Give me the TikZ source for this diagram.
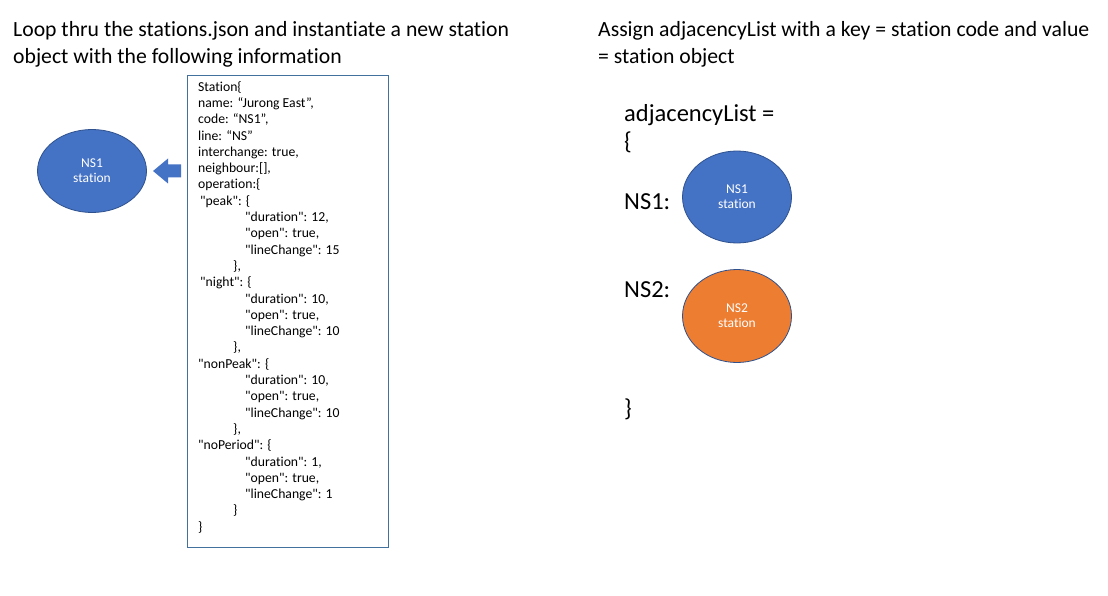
\documentclass[tikz,border=0pt]{standalone}
\usepackage{fontspec}
\setmainfont{Carlito}
\newfontfamily\plaincarlito{Carlito}[Ligatures=NoCommon]
\usetikzlibrary{positioning,shapes}
\definecolor{stnblue}{HTML}{4472C4}
\definecolor{stnorange}{HTML}{ED7D31}
\definecolor{stnedge}{HTML}{2F528F}
\definecolor{boxedge}{HTML}{41719C}
\tikzstyle{heading} = [anchor=base west, inner sep=0pt, align=left, font=\plaincarlito\fontsize{21.7}{26.3}\selectfont]
\tikzstyle{listtext} = [anchor=base west, inner sep=0pt, font=\plaincarlito\fontsize{24.5}{28}\selectfont]
\tikzstyle{station} = [ellipse, minimum width=109pt, minimum height=83pt, draw=stnedge, line width=0.8pt, fill=stnblue, text=white, align=center, inner sep=0pt, font=\plaincarlito\fontsize{13.5}{15}\selectfont]
\tikzstyle{infobox} = [rectangle, anchor=north west, draw=boxedge, line width=0.8pt, minimum width=201pt, minimum height=472pt, inner sep=0pt]
\tikzstyle{jsontext} = [anchor=north west, inner sep=0pt, align=left, font=\plaincarlito\fontsize{13.7}{16.3}\selectfont]
\def\ind{\hspace*{47pt}}
\def\cls{\hspace*{35pt}}

\begin{document}
\begin{tikzpicture}[x=1pt, y=-1pt]
\useasboundingbox [fill=white] (0,0) rectangle (1108,596);

\node (title1) [heading] at (13,63.3) {Loop thru the stations.json and instantiate a new station\\object with the following information};
\node (title2) [heading] at (598,63.3) {Assign adjacencyList with a key = station code and value\\= station object};

% left part
\node (ns1) [station] at (92,171) {NS1\\station};
\node (info) [infobox] at (187,75) {};
\node (json) [jsontext] at (198,81) {Station\{\\
name: “Jurong East”,\\
code: “NS1”,\\
line: “NS”\\
interchange: true,\\
neighbour:[],\\
operation:\{\\
\hspace*{2pt}"peak": \{\\
\ind"duration": 12,\\
\ind"open": true,\\
\ind"lineChange": 15\\
\cls\},\\
\hspace*{2pt}"night": \{\\
\ind"duration": 10,\\
\ind"open": true,\\
\ind"lineChange": 10\\
\cls\},\\
"nonPeak": \{\\
\ind"duration": 10,\\
\ind"open": true,\\
\ind"lineChange": 10\\
\cls\},\\
"noPeriod": \{\\
\ind"duration": 1,\\
\ind"open": true,\\
\ind"lineChange": 1\\
\cls\}\\
\}};
\fill [stnblue] (153,171) -- (168,158.5) -- (168,164.5) -- (181,164.5) -- (181,177.5) -- (168,177.5) -- (168,183.5) -- cycle;

% right part
\node (adj) [listtext] at (624,121.5) {adjacencyList =};
\node (open) [listtext] at (624,150) {\{};
\node (key1) [listtext] at (624,210) {NS1:};
\node (key2) [listtext] at (624,297) {NS2:};
\node (close) [listtext] at (624,416) {\}};
\node (val1) [station, minimum height=92pt] at (737,197) {NS1\\station};
\node (val2) [station, minimum height=93pt, fill=stnorange] at (737,316) {NS2\\station};

\end{tikzpicture}
\end{document}
